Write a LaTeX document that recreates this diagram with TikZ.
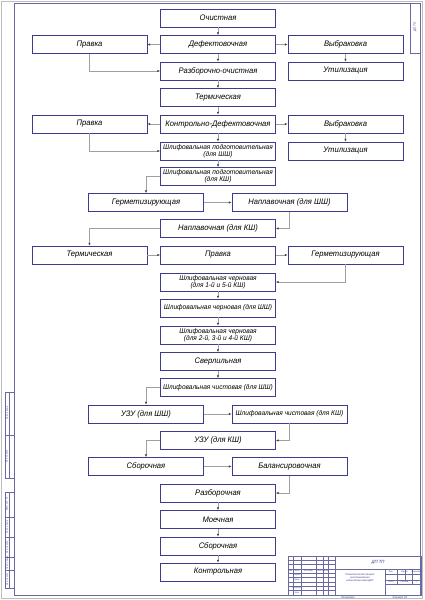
\documentclass[tikz,border=0pt]{standalone}
\usepackage{fontspec}
\newfontfamily\gost{Liberation Sans}[FakeStretch=0.95]
\usetikzlibrary{arrows.meta}
\definecolor{boxc}{HTML}{3C3C8C}
\definecolor{framec}{HTML}{6A6AA0}
\definecolor{linec}{HTML}{A0A0A0}
\begin{document}
\begin{tikzpicture}[x=1pt,y=-1pt,
  box/.style={draw=boxc, line width=0.85pt, minimum width=115pt, minimum height=18pt, inner sep=0pt, align=center, font=\gost\itshape\fontsize{8}{8.5}\selectfont},
  box2/.style={box, font=\gost\itshape\fontsize{6.9}{7.4}\selectfont},
  conn/.style={draw=linec, line width=0.45pt, -{Latex[length=2.6pt,width=2.2pt,color=black!75]}},
  fr/.style={draw=framec, line width=0.6pt},
  thin/.style={draw=framec, line width=0.35pt},
  tiny/.style={font=\gost\itshape\fontsize{2.2}{2.6}\selectfont, inner sep=0pt, text=boxc}
]
\useasboundingbox (0,0) rectangle (424,600);
\fill[white] (0,0) rectangle (424,600);
% sheet
\draw[draw=linec!70, line width=0.6pt] (1.5,1.5) rectangle (422.5,598.5);
\draw[fr] (14,3) rectangle (420,595);
% top-right designation box
\draw[fr] (410,3) rectangle (420,53);
\node[tiny, font=\gost\itshape\fontsize{3.2}{3.6}\selectfont, rotate=90] (desig) at (415,27) {ДП ТП};
% left strip
\draw[thin] (5,392) rectangle (14,478);
\draw[thin] (9,392) -- (9,478);
\draw[thin] (5,435) -- (14,435);
\draw[thin] (5,492) rectangle (14,588);
\draw[thin] (9,492) -- (9,588);
\draw[thin] (5,517) -- (14,517);
\draw[thin] (5,537) -- (14,537);
\draw[thin] (5,557) -- (14,557);
\draw[thin] (5,570) -- (14,570);
\node[tiny, rotate=90] (s1) at (7,413) {Подп. и дата};
\node[tiny, rotate=90] (s2) at (7,456) {Инв. № дубл.};
\node[tiny, rotate=90] (s3) at (7,504) {Взам. инв. №};
\node[tiny, rotate=90] (s4) at (7,527) {Подп. и дата};
\node[tiny, rotate=90] (s5) at (7,547) {Инв. № подл.};
\node[tiny, rotate=90] (s6) at (7,563) {Подп. и дата};
\node[tiny, rotate=90] (s7) at (7,579) {Инв. № подл.};
% title block
\draw[fr] (288,556) rectangle (421,595);
\foreach \yy in {560.3,564.6,568.9,573.2,577.5,581.8,586.1,590.4} \draw[thin] (288,\yy) -- (335,\yy);
\foreach \xx in {293,301,316,323,328} \draw[thin] (\xx,556) -- (\xx,595);
\draw[fr] (335,556) -- (335,595);
\draw[fr] (335,569) -- (421,569);
\draw[fr] (385,569) -- (385,595);
\draw[thin] (385,574) -- (421,574);
\draw[thin] (385,580) -- (421,580);
\draw[thin] (385,584) -- (421,584);
\draw[thin] (397,569) -- (397,584);
\draw[thin] (405,569) -- (405,580);
\draw[thin] (412,569) -- (412,584);
\node[tiny, font=\gost\itshape\fontsize{4.5}{5}\selectfont] (tdp) at (378,562.5) {ДП ТП};
\node[tiny, font=\gost\itshape\fontsize{2.6}{3}\selectfont, align=center] (ttl) at (360,578) {Технологический процесс\\восстановления\\коленчатого вала ДВС};
\node[tiny] (t1) at (391,571.5) {Лит.};
\node[tiny] (t2) at (404.5,571.5) {Масса};
\node[tiny] (t3) at (416.5,571.5) {Масштаб};
\node[tiny] (t4) at (391,582) {Лист};
\node[tiny] (t5) at (404.5,582) {Листов};
\node[tiny] (t6) at (416.5,582) {1};
\node[tiny] (t7) at (290.5,571) {Изм.};
\node[tiny] (t8) at (297,571) {Лист};
\node[tiny] (t9) at (308.5,571) {№ докум.};
\node[tiny] (t10) at (319.5,571) {Подп.};
\node[tiny] (t11) at (325.5,571) {Дата};
\node[tiny] (t12) at (297,575.3) {Разраб.};
\node[tiny] (t13) at (297,579.6) {Пров.};
\node[tiny] (t14) at (297,588.2) {Н.контр.};
\node[tiny] (t15) at (297,592.6) {Утв.};
\node[tiny, font=\gost\itshape\fontsize{2.8}{3}\selectfont] (kop) at (348,597.5) {Копировал};
\node[tiny, font=\gost\itshape\fontsize{2.8}{3}\selectfont] (fmt) at (400,597.5) {Формат А1};

% ---- process boxes ----
\node[box] (och) at (218,18) {Очистная};
\node[box] (def) at (218,44.5) {Дефектовочная};
\node[box] (pr1) at (89.5,44.5) {Правка};
\node[box] (vb1) at (345.5,44.5) {Выбраковка};
\node[box] (ro) at (218,71) {Разборочно-очистная};
\node[box] (ut1) at (345.5,71) {Утилизация};
\node[box] (ter1) at (218,97.5) {Термическая};
\node[box] (kd) at (218,124) {Контрольно-Дефектовочная};
\node[box] (pr2) at (89.5,124) {Правка};
\node[box] (vb2) at (345.5,124) {Выбраковка};
\node[box2] (psh) at (218,151) {Шлифовальная подготовительная\\(для ШШ)};
\node[box] (ut2) at (345.5,151) {Утилизация};
\node[box2] (pk) at (218,176.5) {Шлифовальная подготовительная\\(для КШ)};
\node[box] (ge1) at (146,202.5) {Герметизирующая};
\node[box] (nsh) at (289.5,202.5) {Наплавочная (для ШШ)};
\node[box] (nk) at (218,228.5) {Наплавочная (для КШ)};
\node[box] (ter2) at (89.5,255) {Термическая};
\node[box] (pr3) at (218,255) {Правка};
\node[box] (ge2) at (345.5,255) {Герметизирующая};
\node[box2] (c15) at (218,282) {Шлифовальная черновая\\(для 1-й и 5-й КШ)};
\node[box2] (csh) at (218,308) {Шлифовальная черновая (для ШШ)};
\node[box2] (c234) at (218,335) {Шлифовальная черновая\\(для 2-й, 3-й и 4-й КШ)};
\node[box] (sv) at (218,361.5) {Сверлильная};
\node[box2] (chsh) at (218,387.5) {Шлифовальная чистовая (для ШШ)};
\node[box] (ush) at (146,414) {УЗУ (для ШШ)};
\node[box2] (chk) at (289.5,414) {Шлифовальная чистовая (для КШ)};
\node[box] (uk) at (218,440.5) {УЗУ (для КШ)};
\node[box] (sb1) at (146,466.5) {Сборочная};
\node[box] (bal) at (289.5,466.5) {Балансировочная};
\node[box] (raz) at (218,493) {Разборочная};
\node[box] (moe) at (218,519.5) {Моечная};
\node[box] (sb2) at (218,546) {Сборочная};
\node[box] (kon) at (218,572) {Контрольная};

% ---- connectors ----
\draw[conn] (och) -- (def);
\draw[conn] (def) -- (pr1);
\draw[conn] (def) -- (vb1);
\draw[conn] (vb1) -- (ut1);
\draw[conn] (def) -- (ro);
\draw[conn] (pr1.south) |- (ro.west);
\draw[conn] (ro) -- (ter1);
\draw[conn] (ter1) -- (kd);
\draw[conn] (kd) -- (pr2);
\draw[conn] (kd) -- (vb2);
\draw[conn] (vb2) -- (ut2);
\draw[conn] (kd) -- (psh);
\draw[conn] (pr2.south) |- (psh.west);
\draw[conn] (psh) -- (pk);
\draw[conn] (pk.west) -| (ge1.north);
\draw[conn] (ge1) -- (nsh);
\draw[conn] (nsh.south) |- (nk.east);
\draw[conn] (nk.west) -| (ter2.north);
\draw[conn] (ter2) -- (pr3);
\draw[conn] (pr3) -- (ge2);
\draw[conn] (ge2.south) |- (c15.east);
\draw[conn] (c15) -- (csh);
\draw[conn] (csh) -- (c234);
\draw[conn] (c234) -- (sv);
\draw[conn] (sv) -- (chsh);
\draw[conn] (chsh.west) -| (ush.north);
\draw[conn] (ush) -- (chk);
\draw[conn] (chk.south) |- (uk.east);
\draw[conn] (uk.west) -| (sb1.north);
\draw[conn] (sb1) -- (bal);
\draw[conn] (bal.south) |- (raz.east);
\draw[conn] (raz) -- (moe);
\draw[conn] (moe) -- (sb2);
\draw[conn] (sb2) -- (kon);
\end{tikzpicture}
\end{document}
